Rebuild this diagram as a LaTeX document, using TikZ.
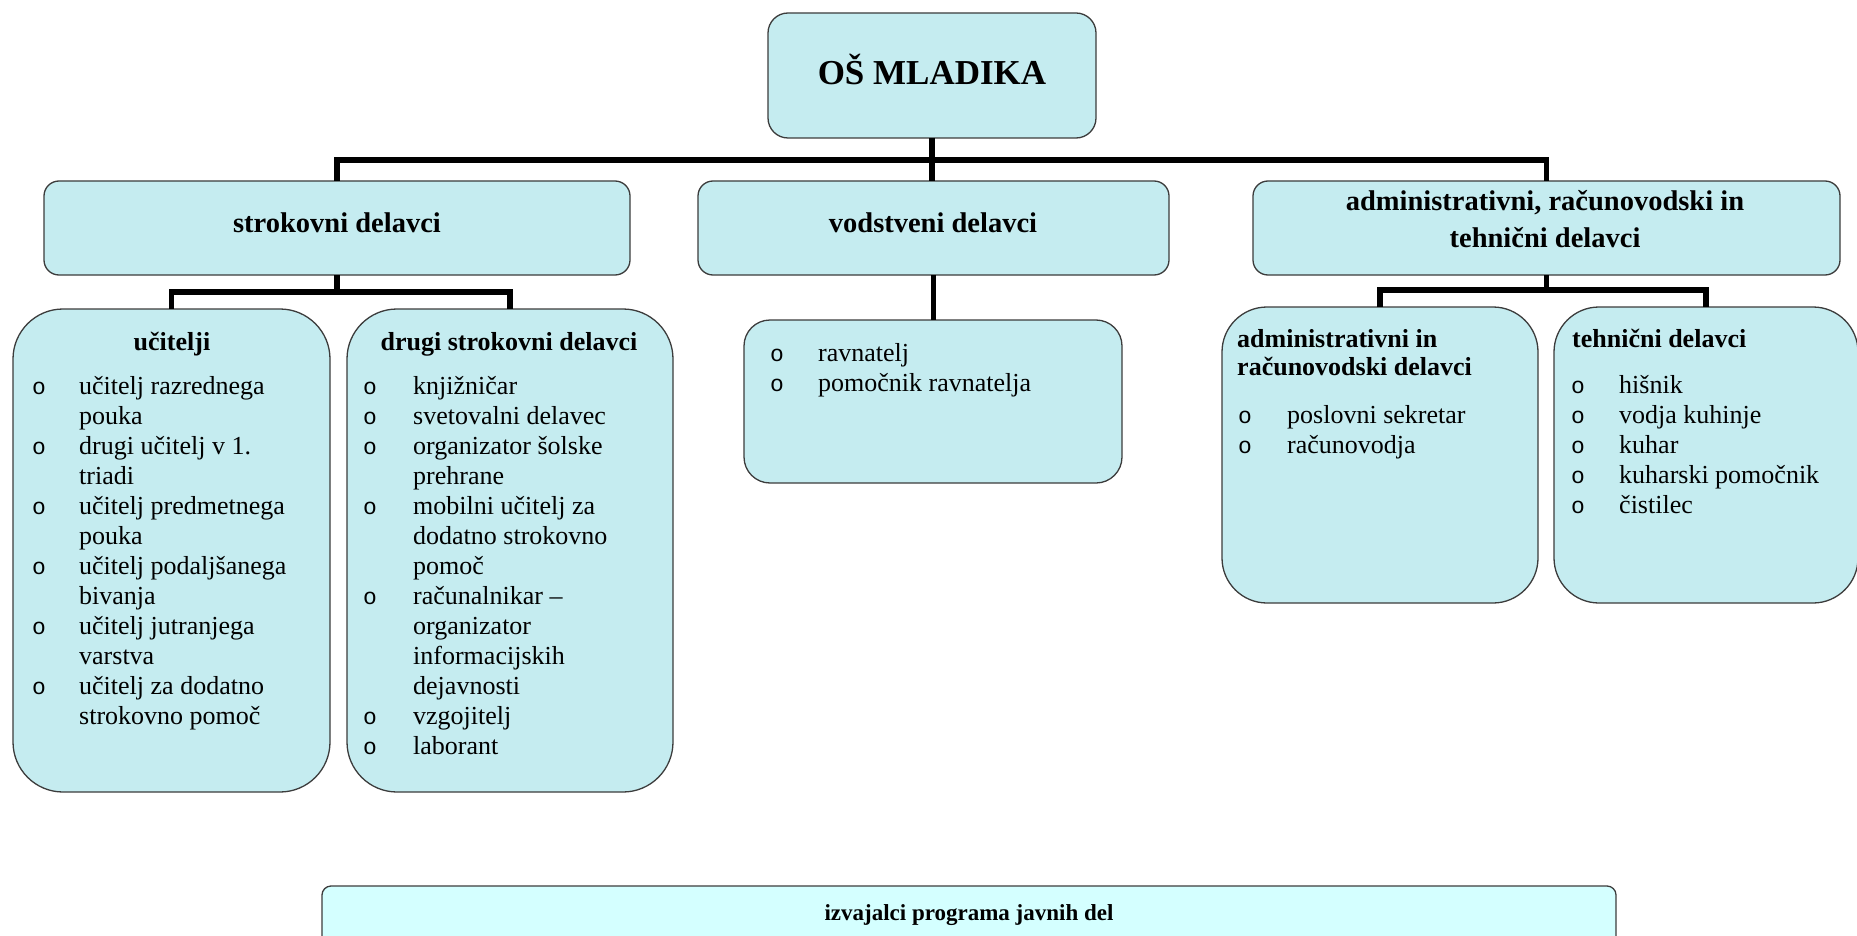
\documentclass[tikz,border=0pt]{standalone}
\usepackage{fontspec}
\setmainfont{Liberation Serif}
\newfontfamily\bulfont{Liberation Mono}
\usetikzlibrary{calc}
\definecolor{boxfill}{RGB}{197,236,240}
\definecolor{botfill}{RGB}{212,255,255}
\definecolor{boxline}{RGB}{60,60,60}
\newcommand\blt{{\bulfont\fontsize{23}{30}\selectfont o}}
\tikzset{
  box/.style={draw=boxline, fill=boxfill, line width=1.3pt, inner sep=0pt, outer sep=0pt, rectangle},
  conn/.style={line width=5.5pt, line join=miter, draw=black},
  lvltwo/.style={font=\fontsize{28.5}{36}\selectfont\bfseries, inner sep=0pt, anchor=base},
  subtitle/.style={font=\fontsize{26}{28}\selectfont\bfseries, inner sep=0pt},
  listtext/.style={font=\fontsize{26}{30}\selectfont, inner sep=0pt, anchor=base west}
}
\begin{document}
\begin{tikzpicture}[x=1pt,y=-1pt]
\useasboundingbox (0,0) rectangle (1857,936);
% boxes (drawn as named nodes)
\node[box, minimum width=328pt, minimum height=125pt, rounded corners=20pt] (root) at (932,75.5) {};
\node[box, minimum width=586pt, minimum height=94pt, rounded corners=15pt] (strok) at (337,228) {};
\node[box, minimum width=471pt, minimum height=94pt, rounded corners=15pt] (vod) at (933.5,228) {};
\node[box, minimum width=587pt, minimum height=94pt, rounded corners=15pt] (admin) at (1546.5,228) {};
\node[box, minimum width=317pt, minimum height=483pt, rounded corners=50pt] (ucit) at (171.5,550.5) {};
\node[box, minimum width=326pt, minimum height=483pt, rounded corners=50pt] (drugi) at (510,550.5) {};
\node[box, minimum width=378pt, minimum height=163pt, rounded corners=26pt] (rav) at (933,401.5) {};
\node[box, minimum width=316pt, minimum height=296pt, rounded corners=45pt] (adsub) at (1380,455) {};
\node[box, minimum width=304pt, minimum height=296pt, rounded corners=45pt] (tech) at (1706,455) {};
\node[box, fill=botfill, minimum width=1294pt, minimum height=100pt, rounded corners=9pt] (bot) at (969,936) {};
% connectors
\coordinate (bus1) at (932,160);
\coordinate (bus2) at (337,292);
\coordinate (bus3) at (1546.5,290);
\draw[conn] (root.south) -- (root.south |- vod.north);
\draw[conn] (strok.north) |- (bus1) -| (admin.north);
\draw[conn] (strok.south) -- (strok.south |- bus2);
\draw[conn] (ucit.north) |- (bus2) -| (drugi.north);
\draw[conn] (vod.south) -- (vod.south |- rav.north);
\draw[conn] (admin.south) -- (admin.south |- bus3);
\draw[conn] (adsub.north) |- (bus3) -| (tech.north);
% texts
\node[font=\fontsize{35}{40}\selectfont\bfseries, inner sep=0pt, anchor=base] (rootT) at (932,85) {OŠ MLADIKA};
\node[lvltwo] (strokT) at (337,233) {strokovni delavci};
\node[lvltwo] (vodT) at (933,233) {vodstveni delavci};
\node[lvltwo] (adminT) at (1545,211) {\begin{tabular}[t]{@{}c@{}}administrativni, računovodski in\\tehnični delavci\end{tabular}};
\node[subtitle, anchor=base] (ucitT) at (172,350) {učitelji};
\node[subtitle, anchor=base] (drugiT) at (509,350) {drugi strokovni delavci};
\node[subtitle, anchor=base west] (adsubT) at (1237,347) {\begin{tabular}[t]{@{}l@{}}administrativni in\\računovodski delavci\end{tabular}};
\node[subtitle, anchor=base west] (techT) at (1572,347) {tehnični delavci};
\node[listtext] (ucitL) at (32,394) {\begin{tabular}[t]{@{}p{47pt}@{}l@{}}
\blt & učitelj razrednega\\
     & pouka\\
\blt & drugi učitelj v 1.\\
     & triadi\\
\blt & učitelj predmetnega\\
     & pouka\\
\blt & učitelj podaljšanega\\
     & bivanja\\
\blt & učitelj jutranjega\\
     & varstva\\
\blt & učitelj za dodatno\\
     & strokovno pomoč
\end{tabular}};
\node[listtext] (drugiL) at (363,394) {\begin{tabular}[t]{@{}p{50pt}@{}l@{}}
\blt & knjižničar\\
\blt & svetovalni delavec\\
\blt & organizator šolske\\
     & prehrane\\
\blt & mobilni učitelj za\\
     & dodatno strokovno\\
     & pomoč\\
\blt & računalnikar –\\
     & organizator\\
     & informacijskih\\
     & dejavnosti\\
\blt & vzgojitelj\\
\blt & laborant
\end{tabular}};
\node[listtext] (ravL) at (770,361) {\begin{tabular}[t]{@{}p{48pt}@{}l@{}}
\blt & ravnatelj\\
\blt & pomočnik ravnatelja
\end{tabular}};
\node[listtext] (adsubL) at (1238,423) {\begin{tabular}[t]{@{}p{49pt}@{}l@{}}
\blt & poslovni sekretar\\
\blt & računovodja
\end{tabular}};
\node[listtext] (techL) at (1571,393) {\begin{tabular}[t]{@{}p{48pt}@{}l@{}}
\blt & hišnik\\
\blt & vodja kuhinje\\
\blt & kuhar\\
\blt & kuharski pomočnik\\
\blt & čistilec
\end{tabular}};
\node[font=\fontsize{23}{26}\selectfont\bfseries, inner sep=0pt, anchor=base] (botT) at (969,920) {izvajalci programa javnih del};
\end{tikzpicture}
\end{document}
